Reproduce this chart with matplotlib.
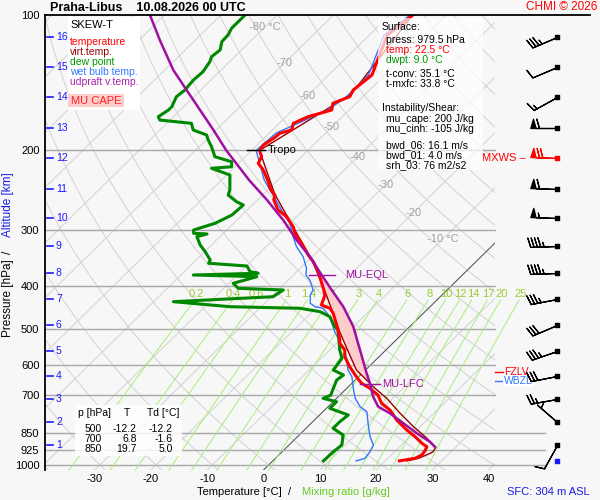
import numpy as np
import matplotlib
matplotlib.use("Agg")
import matplotlib.pyplot as plt
from matplotlib.patches import Rectangle

plt.rcParams['font.family'] = ['Liberation Sans', 'DejaVu Sans']

# ---------------- sounding values ----------------
# temperature [hPa], [degC]
t_p = [979.5, 966.7, 950.5, 929.9, 911, 895.2, 865.5, 836.3, 794.6, 755, 729.6,
       700, 675.5, 658.5, 636.7, 605, 574.7, 555.3, 536.6, 527.7, 497, 460.3,
       448.6, 441.1, 419, 405, 372, 353.4, 341.5, 321.7, 305.6, 295.5, 280.7,
       271.3, 257.7, 251.2, 244.9, 232.7, 221, 213.6, 206.5, 200, 194.5, 187.9,
       183.2, 180.1, 174.1, 168.3, 162.6, 157.1, 151.9, 146.8, 135.9, 124.8,
       110.8, 102.6, 100]
t_c = [22.5, 24.8, 25.4, 25.2, 24.8, 23.3, 20.9, 18.2, 14.6, 11.6, 8.9,
       6.8, 4.1, 1.7, -0.4, -3.4, -6.1, -7.3, -9.4, -10.0, -12.5, -16.0,
       -17.5, -19.6, -20.8, -22.3, -26.2, -28.9, -31.0, -34.3, -37.3, -38.8, -41.8,
       -44.5, -47.1, -47.8, -49.4, -51.8, -54.4, -56.5, -57.1, -58.6, -58.9, -58.3,
       -58.1, -56.6, -57.5, -56.1, -53.1, -54.1, -52.3, -52.9, -52.3, -54.2,
       -56.8, -56.1, -55.9]

# virtual temperature
tv_p = [979.5, 966.7, 942.3, 934.6, 913.8, 872.7, 822.3, 767.8, 711.1, 670.1,
        615.3, 550, 500, 450, 400, 350, 300, 250, 200, 150, 100]
tv_c = [23.8, 25.4, 26.6, 26.8, 26.5, 23.3, 18.8, 14.0, 8.9, 4.4,
        -1.6, -7.3, -12.1, -17.1, -22.8, -29.5, -38.0, -48.0, -58.6, -52.5, -55.9]

# dew point
td_p = [979.5, 934.6, 903.1, 858, 829, 801.6, 774.6, 748.4, 723.6, 711.1, 700,
        675.5, 647.6, 631.2, 615.3, 579.5, 555.3, 500, 493, 468.3, 456.5, 448.6,
        445, 433.7, 422.8, 408.5, 405, 394.8, 381.6, 378.3, 375, 372, 361.3,
        356.3, 350.4, 335.8, 324.5, 311, 306.7, 305.6, 300.5, 290.4, 278.3,
        264.4, 260, 251.2, 244.9, 232.7, 226.8, 219.1, 217.4, 211.9, 206.5,
        196.2, 189.6, 184.8, 180.1, 174.1, 171.2, 168.3, 162.6, 159.9, 151.9,
        146.8, 139.5, 133.7, 127, 123.8, 119.6, 114.6, 110.8, 107, 100]
td_c = [9.0, 9.1, 9.4, 7.8, 4.8, 4.8, 5.1, 0.6, 0.6, -2.4, -1.6,
        -2.4, -3.3, -3.0, -5.7, -6.3, -8.2, -12.2, -13.3, -16.0, -18.6, -22.8,
        -35.5, -46.5, -29.7, -29.1, -37.4, -39.2, -36.2, -47.8, -36.6, -38.3, -39.9,
        -47.2, -47.5, -49.9, -52.0, -54.1, -52.8, -55.3, -55.9, -53.3, -51.8,
        -51.6, -53.4, -56.1, -56.7, -58.5, -59.4, -63.9, -60.6, -61.5, -65.4,
        -67.8, -69.6, -70.8, -74.1, -75.6, -81.8, -82.7, -82.1, -82.1, -83.1,
        -82.8, -83.1, -82.9, -83.5, -84.1, -83.8, -85.0, -85.1, -85.7, -85.7]

# wet bulb temperature
tw_p = [979.5, 966.7, 934.6, 903.1, 865.5, 822.3, 761.6, 742.3, 711.1, 681.5,
        636.7, 615.3, 589.6, 555.3, 532.2, 505.7, 468.3, 448.6, 445, 437.3,
        419, 408.5, 388.1, 378.3, 365.6, 344.5, 327.3, 311, 290.4, 275.9,
        255.5, 232.7, 200, 183, 162.6, 151.9, 135.9, 110.8, 100]
tw_c = [14.8, 15.9, 15.6, 15.0, 12.9, 10.8, 7.8, 5.7, 3.3, 1.5,
        -1.2, -3.1, -4.8, -7.3, -9.7, -12.4, -16.0, -18.7, -20.4, -21.9,
        -23.4, -23.8, -26.2, -27.8, -28.9, -31.6, -34.6, -37.0, -40.0, -43.0,
        -47.2, -52.4, -59.2, -58.8, -53.8, -52.9, -52.9, -57.4, -56.4]

# most unstable parcel (updraft virtual temperature)
pc_p = [911, 887.9, 850.6, 808.2, 767.8, 742.3, 705.3, 658.5, 625.7, 555.3,
        493, 445, 408.5, 378.3, 344.5, 316.3, 285.5, 257.7, 232.7, 200,
        180.1, 162.6, 146.8, 132.5, 113.7, 100]
pc_c = [26.2, 24.4, 20.6, 16.4, 12.2, 8.9, 6.2, 3.2, 0.8, -4.6,
        -10.0, -15.4, -20.5, -25.0, -30.4, -35.8, -41.8, -48.3, -55.1, -64.5,
        -70.5, -76.5, -82.5, -88.5, -96.3, -102.6]

lfc_p, eql_p = 662.0, 378.0
tropo_p, tropo_t = 200.0, -58.6
fzlv_p, wbzl_p = 623.0, 651.0
sfc_p = 979.5

# altitude marks [km] and their pressure levels, winds at the same levels
km_lab = list(range(1, 17))
km_p = [903, 803, 714, 634, 558, 489, 428, 374, 326, 283, 244, 208, 178, 152, 130.5, 111.9]
wind_dir = [209, 311, 260, 259, 251, 247, 259, 268, 268, 272, 272, 272, 270, 241, 247, 247]
wind_spd = [10, 5, 25, 30, 35, 30, 35, 45, 45, 55, 60, 70, 60, 15, 10, 35]
mxws_km = 12

p_ticks = [100, 200, 300, 400, 500, 600, 700, 850, 925, 1000]
t_ticks = [-30, -20, -10, 0, 10, 20, 30, 40]
mix_w = [0.2, 0.4, 0.6, 1, 1.4, 2, 3, 4, 6, 8, 10, 12, 14, 17, 20, 25]
iso_lab_t = [-80, -70, -60, -50, -40, -30, -20, -10]
iso_lab_p = [106.3, 127.9, 151.4, 177.4, 206.9, 238.6, 275.4, 314.9]

legend_items = [("temperature", "#ff0000"), ("virt.temp.", "#990000"),
                ("dew point", "#009900"), ("wet bulb temp.", "#3377ff"),
                ("udpraft v.temp.", "#aa22aa")]
sfc_info = [("Surface:", "k", 27, 0), ("press: 979.5 hPa", "k", 40, 4),
            ("temp: 22.5 °C", "#ff0000", 50, 4), ("dwpt: 9.0 °C", "#009900", 60, 4),
            ("t-conv: 35.1 °C", "k", 74, 4), ("t-mxfc: 33.8 °C", "k", 84, 4),
            ("Instability/Shear:", "k", 108, 0), ("mu_cape: 200 J/kg", "k", 119, 4),
            ("mu_cinh: -105 J/kg", "k", 129, 4), ("bwd_06: 16.1 m/s", "k", 145, 4),
            ("bwd_01: 4.0 m/s", "k", 155, 4), ("srh_03: 76 m2/s2", "k", 165, 4)]
tab_p = ["500", "700", "850"]
tab_t = ["-12.2", "6.8", "19.7"]
tab_td = ["-12.2", "-1.6", "5.0"]

# ---------------- geometry ----------------
W, H = 600, 500
P_BOT, P_TOP = 1026.3, 100.0
SKEW = 35.4            # degC shift per ln(p) unit
X0, X1 = -38.81, 41.12


def sx(t, p):
    return np.asarray(t, float) + SKEW * np.log(P_BOT / np.asarray(p, float))


def px_x(x):
    # pixel column -> skewed data x
    return X0 + (x - 45) * (X1 - X0) / 450.0


def ftext(x, y, s, **kw):
    kw.setdefault("fontsize", 7.5)
    kw.setdefault("va", "center")
    fig.text(x / W, 1 - y / H, s, **kw)


def fbox(x0, y0, x1, y1, **kw):
    fig.add_artist(Rectangle((x0 / W, 1 - y1 / H), (x1 - x0) / W, (y1 - y0) / H,
                             transform=fig.transFigure, lw=0, **kw))


fig = plt.figure(figsize=(6, 5), dpi=100, facecolor="#f7f7f7")
ax = fig.add_axes([45 / W, 30 / H, 450 / W, 455 / H])
ax.set_facecolor("none")
ax.set_yscale("log")
ax.set_ylim(P_BOT, P_TOP)
ax.set_xlim(X0, X1)
ax.yaxis.set_minor_locator(matplotlib.ticker.NullLocator())
ax.set_yticks(p_ticks)
ax.set_yticklabels([str(p) for p in p_ticks])
ax.set_xticks(t_ticks)
ax.set_xticklabels([str(t) for t in t_ticks])
ax.tick_params(axis="both", length=0, labelsize=8)
ax.tick_params(axis="y", pad=4)
ax.tick_params(axis="x", pad=3)
for s in ["top", "right", "bottom"]:
    ax.spines[s].set_visible(False)
ax.spines["left"].set_linewidth(1.3)

pp = np.geomspace(P_BOT, P_TOP, 120)

# isotherms
for t in range(-130, 50, 10):
    ax.plot(sx(t, pp[[0, -1]]), pp[[0, -1]], color="#d2d2d2", lw=0.7, zorder=1)
ax.plot(sx(0, pp[[0, -1]]), pp[[0, -1]], color="#555555", lw=0.7, zorder=1.2)
# dry adiabats
for th in range(-40, 190, 10):
    tt = (th + 273.15) * (pp / 1000.0) ** 0.2857 - 273.15
    ax.plot(sx(tt, pp), pp, color="#d2d2d2", lw=0.7, zorder=1)
# isobars
for p in p_ticks[1:]:
    xe = X1 if p < 800 else px_x(545)
    ax.plot([X0, xe], [p, p], color="#a8a8a8", lw=1.0, zorder=1.3, clip_on=False)
for t, p in zip(iso_lab_t, iso_lab_p):
    lab = f"{t} °C" if t in (-80, -10) else str(t)
    ax.text(sx(t, p), p, lab, color="#a0a0a0", fontsize=8, ha="center", va="center", zorder=1.4)

# mixing ratio lines
pm = np.geomspace(P_BOT, 430, 30)
for w in mix_w:
    e = w * pm / (622.0 + w)
    le = np.log(e / 6.112)
    td = 243.5 * le / (17.67 - le)
    ax.plot(sx(td, pm), pm, color="#a6ee7a", lw=0.7, zorder=1.5, clip_on=False)
    lab = ("%g" % w)
    ax.text(sx(td[-1], 430) + 0.2, 417, lab, color="#99cc33", fontsize=8,
            ha="center", va="center", zorder=1.5, clip_on=False)

# CAPE shading
pf = np.geomspace(lfc_p, eql_p, 80)
lp = -np.log(pf)
xpar = np.interp(lp, -np.log(pc_p), sx(pc_c, pc_p))
xtv = np.interp(lp, -np.log(tv_p), sx(tv_c, tv_p))
ax.fill_betweenx(pf, xtv, xpar, where=xpar > xtv, color="#ffcccc", lw=0, zorder=2)

# profiles
ax.plot(sx(tv_c, tv_p), tv_p, color="#990000", lw=1.0, zorder=3)
ax.plot(sx(tw_c, tw_p), tw_p, color="#3377ff", lw=1.0, zorder=3)
ax.plot(sx(td_c, td_p), td_p, color="#008800", lw=2.2, zorder=4)
ax.plot(sx(t_c, t_p), t_p, color="#ff0000", lw=2.2, zorder=5)
ax.plot(sx(pc_c, pc_p), pc_p, color="#a010a0", lw=1.8, zorder=6)

# markers
xt = sx(tropo_t, tropo_p)
ax.plot([xt - 2.3, xt + 1.0], [tropo_p, tropo_p], color="k", lw=1.0, zorder=7)
ax.text(xt + 1.5, tropo_p, "Tropo", fontsize=8, va="center", zorder=7)
xe = np.interp(-np.log(eql_p), -np.log(pc_p), sx(pc_c, pc_p))
ax.plot([xe - 2.2, xe + 2.3], [eql_p, eql_p], color="#a010a0", lw=1.0, zorder=7)
ax.text(xe + 4.2, eql_p, "MU-EQL", color="#a010a0", fontsize=8, va="center", zorder=7)
xl = np.interp(-np.log(lfc_p), -np.log(pc_p), sx(pc_c, pc_p))
ax.plot([xl - 1.8, xl + 1.8], [lfc_p, lfc_p], color="#a010a0", lw=1.0, zorder=7)
ax.text(xl + 2.1, lfc_p, "MU-LFC", color="#a010a0", fontsize=8, va="center", zorder=7)
ax.plot([X1, px_x(503)], [fzlv_p, fzlv_p], color="#ff0000", lw=1, clip_on=False)
ax.text(px_x(504), fzlv_p, "FZLV", color="#ff0000", fontsize=7.5, va="center", clip_on=False)
ax.plot([X1, px_x(503)], [wbzl_p, wbzl_p], color="#3377ff", lw=1, clip_on=False, zorder=8)
ax.text(px_x(504), wbzl_p, "WBZL", color="#3377ff", fontsize=7.5, va="center", clip_on=False,
        zorder=8, bbox=dict(facecolor="white", edgecolor="none", pad=1.0))
ax.text(px_x(482), km_p[mxws_km - 1], "MXWS –", color="#ff0000", fontsize=8,
        va="center", clip_on=False)

# altitude scale
for k, p in zip(km_lab, km_p):
    ax.plot([px_x(47), px_x(53)], [p, p], color="#1a1aff", lw=1.2, clip_on=False)
    ax.text(px_x(56), p, str(k), color="#1a1aff", fontsize=7.5, va="center")

# ---------------- wind barbs ----------------
wax = fig.add_axes([500 / W, 30 / H, 100 / W, 455 / H])
wax.set_yscale("log")
wax.set_ylim(P_BOT, P_TOP)
wax.set_xlim(0, 100)
wax.axis("off")
rad = np.deg2rad(wind_dir)
u = -np.array(wind_spd) * np.sin(rad)
v = -np.array(wind_spd) * np.cos(rad)
for i, p in enumerate(km_p):
    col = "#ff0000" if km_lab[i] == mxws_km else "k"
    wax.barbs([56.5], [p], [u[i]], [v[i]], length=6.2, color=col, lw=0.9,
              sizes=dict(height=0.35, width=0.2))
    wax.scatter([56.5], [p], marker="s", s=7, color=col, zorder=5)
wax.scatter([56.5], [sfc_p], marker="s", s=7, color="#1a1aff", zorder=5)

# ---------------- frame and texts ----------------
fig.add_artist(plt.Line2D([45 / W, 590 / W], [1 - 15 / H, 1 - 15 / H], color="k", lw=1.3,
                          transform=fig.transFigure))
ftext(50, 8, "Praha-Libus    10.08.2026 00 UTC", fontsize=9, fontweight="bold")
ftext(597, 7, "CHMI © 2026", color="#ff0000", fontsize=8.5, ha="right")
ftext(590, 492, "SFC: 304 m ASL", color="#1a1ae6", fontsize=8, ha="right")
ftext(197, 492, "Temperature [°C]", fontsize=8)
ftext(288, 492, "/", fontsize=8)
ftext(302, 492, "Mixing ratio [g/kg]", color="#66cc22", fontsize=8)
ftext(8, 298, "Pressure [hPa]", fontsize=8.5, rotation=90, ha="center")
ftext(8, 252, "/", fontsize=8.5, rotation=90, ha="center")
ftext(8, 205, "Altitude [km]", color="#1a1ae6", fontsize=8.5, rotation=90, ha="center")

# legend box
fbox(68, 17, 140, 110, facecolor="white", zorder=5)
ftext(70, 25, "SKEW-T", fontsize=8, zorder=6)
for i, (s, c) in enumerate(legend_items):
    ftext(70, 42 + 10 * i, s, color=c, zorder=6)
fbox(68, 94, 124, 107, facecolor="#ffcccc", zorder=6)
ftext(96, 101, "MU CAPE", color="#ff2020", fontsize=8, ha="center", zorder=7)

# surface / instability box
fbox(378, 18, 483, 170, facecolor="white", alpha=0.7, zorder=5)
for s, c, y, dx in sfc_info:
    ftext(382 + dx, y, s, color=c, zorder=6)

# level table
fbox(75, 405, 182, 456, facecolor="white", alpha=0.85, zorder=5)
ftext(78, 413, "p [hPa]", zorder=6)
ftext(127, 413, "T", ha="center", zorder=6)
ftext(147, 413, "Td [°C]", zorder=6)
for i in range(len(tab_p)):
    y = 428.5 + 10.3 * i
    ftext(102, y, tab_p[i], ha="right", zorder=6)
    ftext(137, y, tab_t[i], ha="right", zorder=6)
    ftext(173, y, tab_td[i], ha="right", zorder=6)

fig.savefig("out.png", dpi=100, facecolor=fig.get_facecolor())
